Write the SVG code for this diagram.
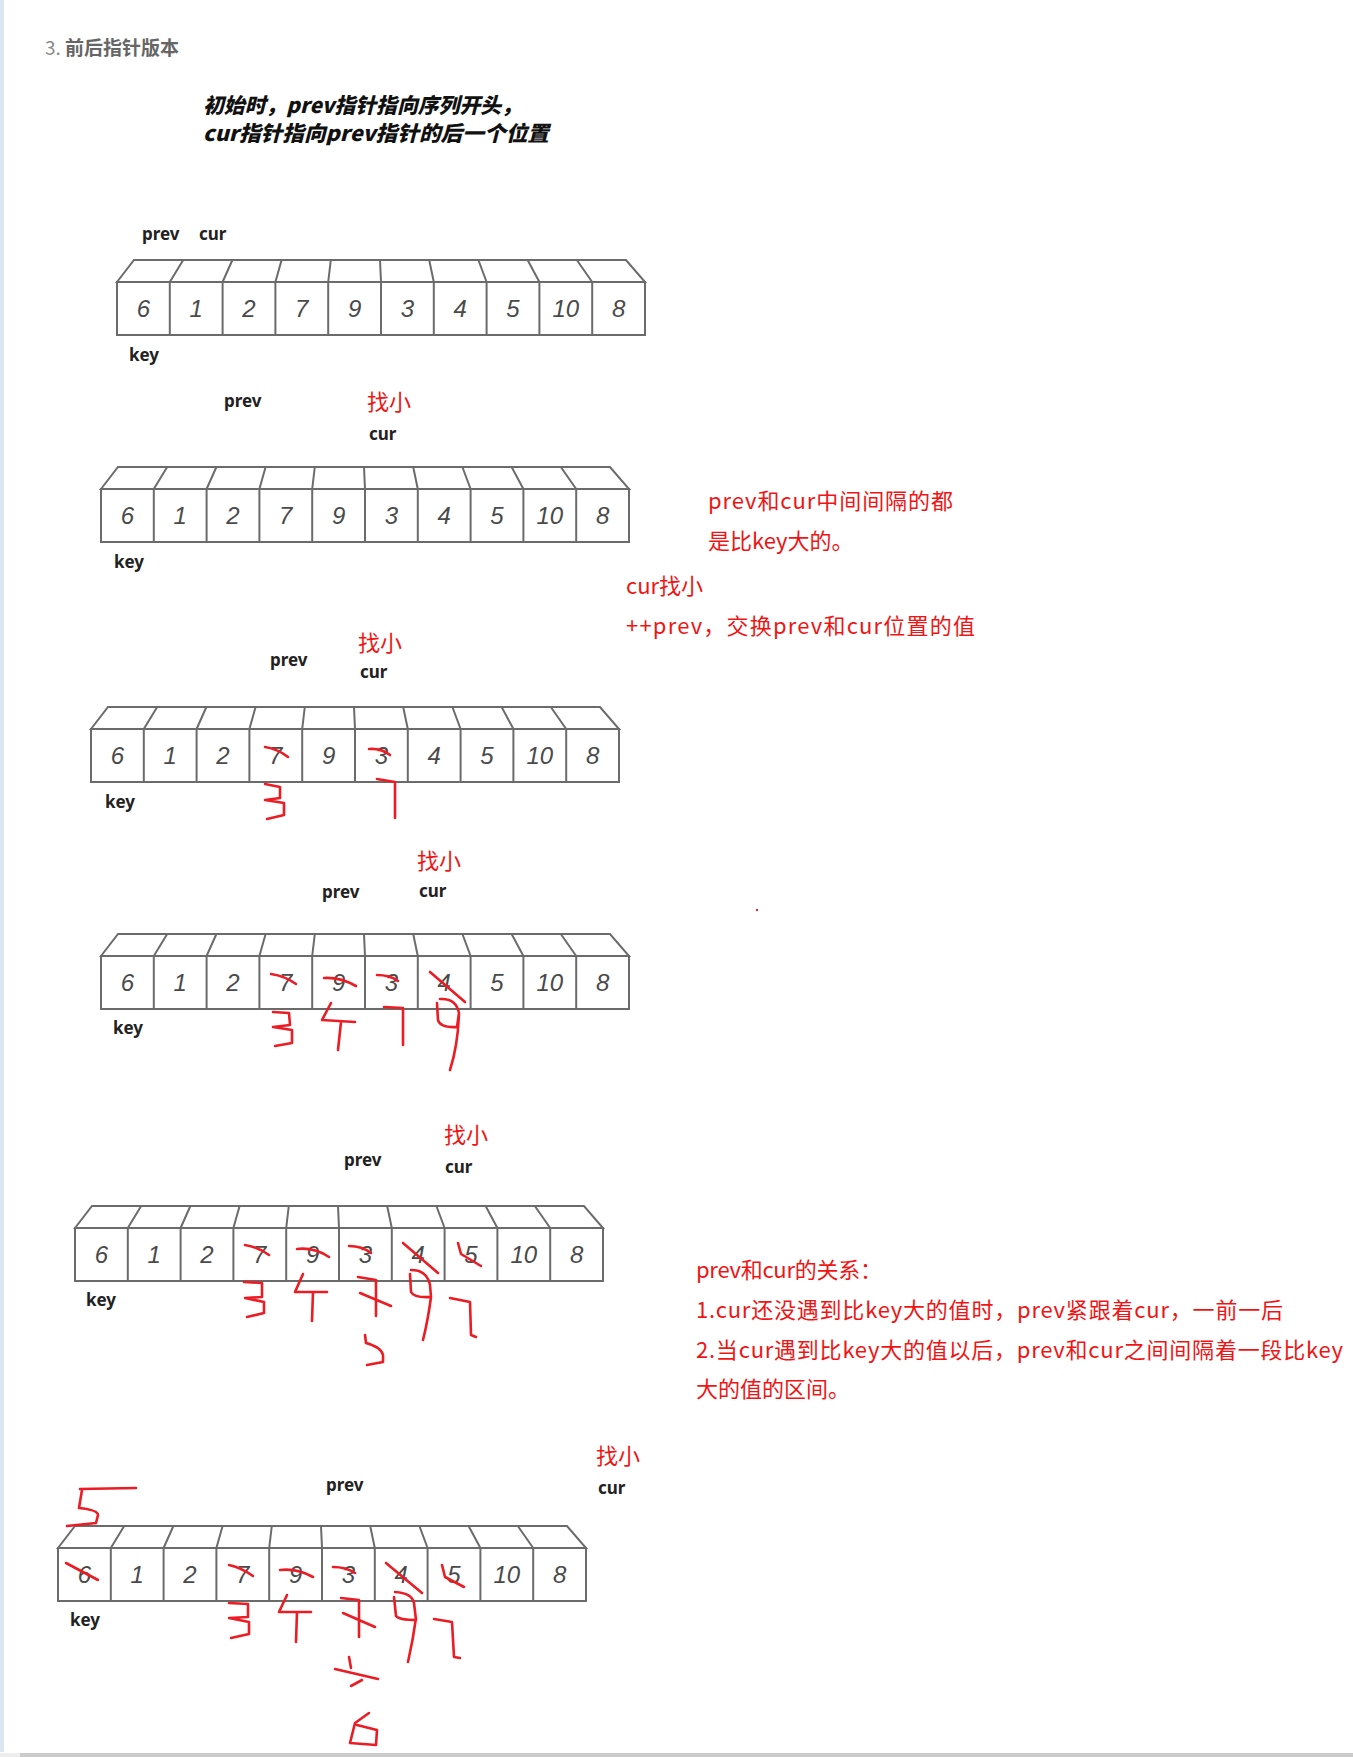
<svg xmlns="http://www.w3.org/2000/svg" xmlns:xlink="http://www.w3.org/1999/xlink" width="1353" height="1757" viewBox="0 0 1353 1757">
<style>
.lbl{font-family:"Noto Sans","Liberation Sans",sans-serif;font-weight:700;font-size:17px;fill:#222}
.d{font-family:"Liberation Sans","DejaVu Sans",sans-serif;font-style:italic;font-size:24px;fill:#4a4a4a;text-anchor:middle}
.red{font-family:"Noto Sans CJK SC","Noto Sans",sans-serif;font-size:22px;fill:#f01414}
.ink{fill:none;stroke:#ec1c24;stroke-width:2.6;stroke-linecap:round;stroke-linejoin:round}
.box{fill:none;stroke:#6b6b6b;stroke-width:2}
</style>
<defs>
<g id="boxes">
<polygon class="box" points="0,0 17,-22 509,-22 528,0"/>
<rect class="box" x="0" y="0" width="528" height="53" fill="#fff"/>
<line class="box" x1="0" y1="53" x2="528" y2="53" stroke-width="3"/>
<path class="box" d="M52.8,0V53M105.6,0V53M158.4,0V53M211.2,0V53M264,0V53M316.8,0V53M369.6,0V53M422.4,0V53M475.2,0V53
M52.8,0L66.2,-22M105.6,0L115.4,-22M158.4,0L164.6,-22M211.2,0L213.8,-22M264,0L263,-22M316.8,0L312.2,-22M369.6,0L361.4,-22M422.4,0L410.6,-22M475.2,0L459.8,-22"/>
</g>
</defs>
<rect width="1353" height="1757" fill="#fff"/>
<rect x="0" y="0" width="4" height="1752" fill="#dce6f2"/>
<rect x="0" y="1753" width="20" height="4" fill="#eeeeee"/>
<rect x="20" y="1753" width="1333" height="4" fill="#cbcbcb"/>

<g id="title">
<text x="45" y="55" font-family="Noto Sans CJK SC,sans-serif" font-size="19" fill="#666"><tspan fill="#888">3. </tspan><tspan font-weight="700">前后指针版本</tspan></text>
</g>
<g id="heading" font-family="Noto Sans CJK SC,sans-serif" font-weight="900" font-style="italic" font-size="21" fill="#111">
<text x="203" y="113" textLength="319" lengthAdjust="spacingAndGlyphs">初始时，prev指针指向序列开头，</text>
<text x="203" y="141" textLength="346" lengthAdjust="spacingAndGlyphs">cur指针指向prev指针的后一个位置</text>
</g>

<g id="array1" transform="translate(117,282)">
<use xlink:href="#boxes" href="#boxes"/>
<text class="d" x="26.4" y="35">6</text><text class="d" x="79.2" y="35">1</text><text class="d" x="132" y="35">2</text><text class="d" x="184.8" y="35">7</text><text class="d" x="237.6" y="35">9</text><text class="d" x="290.4" y="35">3</text><text class="d" x="343.2" y="35">4</text><text class="d" x="396" y="35">5</text><text class="d" x="448.8" y="35">10</text><text class="d" x="501.6" y="35">8</text>
</g>
<g id="array1-labels">
<text class="lbl" x="142" y="240">prev</text><text class="lbl" x="199" y="240">cur</text><text class="lbl" x="129" y="361">key</text>
</g>

<g id="array2" transform="translate(101,489)">
<use xlink:href="#boxes" href="#boxes"/>
<text class="d" x="26.4" y="35">6</text><text class="d" x="79.2" y="35">1</text><text class="d" x="132" y="35">2</text><text class="d" x="184.8" y="35">7</text><text class="d" x="237.6" y="35">9</text><text class="d" x="290.4" y="35">3</text><text class="d" x="343.2" y="35">4</text><text class="d" x="396" y="35">5</text><text class="d" x="448.8" y="35">10</text><text class="d" x="501.6" y="35">8</text>
</g>
<g id="array2-labels">
<text class="lbl" x="224" y="407">prev</text><text class="red" x="367" y="410">找小</text><text class="lbl" x="369" y="440">cur</text><text class="lbl" x="114" y="568">key</text>
</g>

<g id="note1">
<text class="red" x="708" y="509" textLength="245">prev和cur中间间隔的都</text>
<text class="red" x="708" y="549">是比key大的。</text>
<text class="red" x="626" y="594">cur找小</text>
<text class="red" x="626" y="634" textLength="349">++prev，交换prev和cur位置的值</text>
</g>

<g id="array3" transform="translate(91,729)">
<use xlink:href="#boxes" href="#boxes"/>
<text class="d" x="26.4" y="35">6</text><text class="d" x="79.2" y="35">1</text><text class="d" x="132" y="35">2</text><text class="d" x="184.8" y="35">7</text><text class="d" x="237.6" y="35">9</text><text class="d" x="290.4" y="35">3</text><text class="d" x="343.2" y="35">4</text><text class="d" x="396" y="35">5</text><text class="d" x="448.8" y="35">10</text><text class="d" x="501.6" y="35">8</text>
</g>
<g id="array3-labels">
<text class="red" x="358" y="651">找小</text><text class="lbl" x="270" y="666">prev</text><text class="lbl" x="360" y="678">cur</text><text class="lbl" x="105" y="808">key</text>
</g>

<g id="array4" transform="translate(101,956)">
<use xlink:href="#boxes" href="#boxes"/>
<text class="d" x="26.4" y="35">6</text><text class="d" x="79.2" y="35">1</text><text class="d" x="132" y="35">2</text><text class="d" x="184.8" y="35">7</text><text class="d" x="237.6" y="35">9</text><text class="d" x="290.4" y="35">3</text><text class="d" x="343.2" y="35">4</text><text class="d" x="396" y="35">5</text><text class="d" x="448.8" y="35">10</text><text class="d" x="501.6" y="35">8</text>
</g>
<g id="array4-labels">
<text class="red" x="417" y="869">找小</text><text class="lbl" x="322" y="898">prev</text><text class="lbl" x="419" y="897">cur</text><text class="lbl" x="113" y="1034">key</text>
</g>

<g id="array5" transform="translate(75,1228)">
<use xlink:href="#boxes" href="#boxes"/>
<text class="d" x="26.4" y="35">6</text><text class="d" x="79.2" y="35">1</text><text class="d" x="132" y="35">2</text><text class="d" x="184.8" y="35">7</text><text class="d" x="237.6" y="35">9</text><text class="d" x="290.4" y="35">3</text><text class="d" x="343.2" y="35">4</text><text class="d" x="396" y="35">5</text><text class="d" x="448.8" y="35">10</text><text class="d" x="501.6" y="35">8</text>
</g>
<g id="array5-labels">
<text class="red" x="444" y="1143">找小</text><text class="lbl" x="344" y="1166">prev</text><text class="lbl" x="445" y="1173">cur</text><text class="lbl" x="86" y="1306">key</text>
</g>

<g id="note2">
<text class="red" x="696" y="1278" textLength="186">prev和cur的关系：</text>
<text class="red" x="696" y="1318" textLength="587">1.cur还没遇到比key大的值时，prev紧跟着cur，一前一后</text>
<text class="red" x="696" y="1358" textLength="647">2.当cur遇到比key大的值以后，prev和cur之间间隔着一段比key</text>
<text class="red" x="696" y="1397">大的值的区间。</text>
</g>

<g id="array6" transform="translate(58,1548)">
<use xlink:href="#boxes" href="#boxes"/>
<text class="d" x="26.4" y="35">6</text><text class="d" x="79.2" y="35">1</text><text class="d" x="132" y="35">2</text><text class="d" x="184.8" y="35">7</text><text class="d" x="237.6" y="35">9</text><text class="d" x="290.4" y="35">3</text><text class="d" x="343.2" y="35">4</text><text class="d" x="396" y="35">5</text><text class="d" x="448.8" y="35">10</text><text class="d" x="501.6" y="35">8</text>
</g>
<g id="array6-labels">
<text class="red" x="596" y="1464">找小</text><text class="lbl" x="326" y="1491">prev</text><text class="lbl" x="598" y="1494">cur</text><text class="lbl" x="70" y="1626">key</text>
</g>

<g id="connectors" class="ink">
<path d="M265,747 Q278,749 288,757"/>
<path d="M369,749 Q381,748 390,755"/>
<path d="M265,784 L280,787 L280,798 L265,800 L284,803 L284,815 L267,819"/>
<path d="M377,779 L395,782 L395,818"/>
<path d="M271,974 Q285,976 296,984"/>
<path d="M324,978 Q340,977 356,986"/>
<path d="M377,975 Q390,975 398,981"/>
<path d="M430,972 L465,1002"/>
<path d="M273,1012 L289,1013 L290,1025 L273,1027 L292,1030 L292,1043 L275,1046"/>
<path d="M331,1003 L322,1020 L355,1022 M341,1022 L338,1050"/>
<path d="M384,1007 L403,1008 L403,1045"/>
<path d="M440,999 Q456,998 459,1013 L457,1027 Q440,1028 438,1020 L437,1003 M459,1013 Q458,1045 450,1070"/>
<path d="M245,1245 Q258,1247 269,1255"/>
<path d="M297,1249 Q314,1247 329,1257"/>
<path d="M349,1246 Q362,1246 371,1253"/>
<path d="M403,1243 L438,1273"/>
<path d="M458,1243 L461,1254 L481,1266"/>
<path d="M244,1282 L262,1283 L262,1297 L245,1298 L264,1302 L264,1313 L247,1317"/>
<path d="M303,1274 L295,1292 L327,1292 M313,1292 L312,1321"/>
<path d="M358,1277 L376,1280 L376,1316 M360,1293 L391,1306"/>
<path d="M411,1270 Q427,1270 430,1285 L431,1297 Q414,1298 411,1292 L410,1274 M431,1297 Q428,1320 423,1340"/>
<path d="M450,1298 L470,1302 L471,1335 L476,1337"/>
<path d="M365,1335 L366,1343 Q381,1347 383,1355 L383,1362 L367,1365"/>
<path d="M80,1489 L136,1488 M82,1490 L79,1508 Q98,1510 98,1515 L96,1523 L67,1526"/>
<path d="M66,1563 L98,1580"/>
<path d="M229,1565 Q242,1568 253,1576"/>
<path d="M280,1570 Q297,1568 313,1577"/>
<path d="M333,1567 Q346,1567 355,1573"/>
<path d="M386,1563 L422,1593"/>
<path d="M442,1565 L445,1577 L464,1587"/>
<path d="M229,1603 L248,1604 L248,1617 L229,1618 L249,1622 L249,1634 L231,1638"/>
<path d="M287,1595 L279,1612 L311,1612 M297,1612 L296,1642"/>
<path d="M341,1598 L359,1600 L359,1637 M343,1613 L375,1627"/>
<path d="M395,1592 Q412,1593 414,1603 L416,1620 Q399,1620 396,1616 L394,1597 M416,1618 Q413,1640 408,1662"/>
<path d="M434,1619 L452,1622 L454,1657 L460,1658"/>
<path d="M349,1657 L351,1668 M335,1669 L378,1679 M362,1680 L351,1686"/>
<path d="M369,1713 L355,1723 L350,1743 L376,1745 L377,1730 L357,1725"/>
</g>
<rect x="756" y="909" width="2" height="2" fill="#ec1c24"/>
</svg>
